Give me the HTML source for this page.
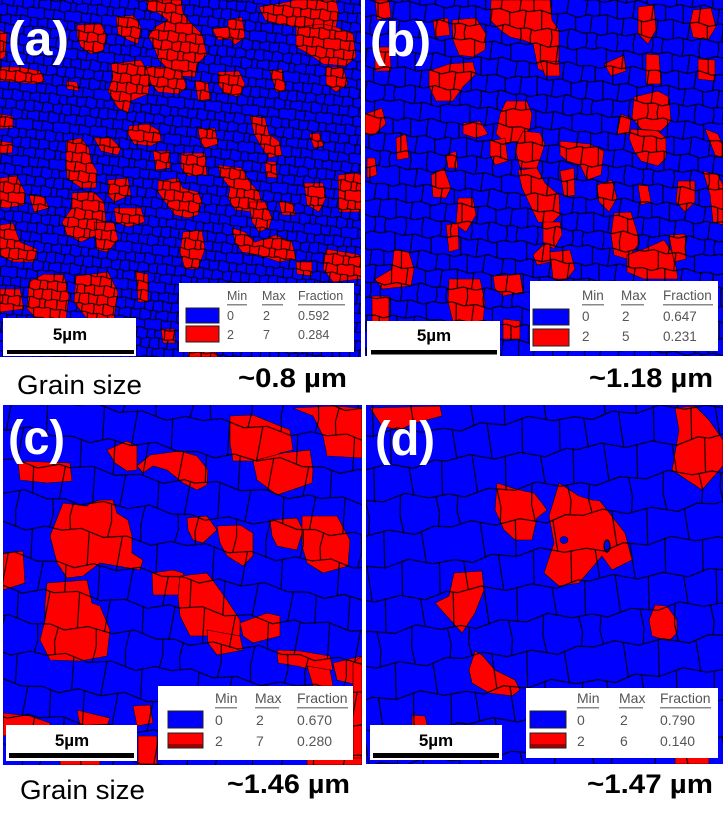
<!DOCTYPE html>
<html>
<head>
<meta charset="utf-8">
<style>
  html,body{margin:0;padding:0;background:#fff;}
  svg{display:block;}
  .lbl{font-family:"Liberation Sans",sans-serif;font-weight:bold;fill:#fff;}
  .leg{font-family:"Liberation Sans",sans-serif;fill:#555;}
  .sb{font-family:"Liberation Sans",sans-serif;font-weight:bold;fill:#000;}
  .cap{font-family:"Liberation Sans",sans-serif;fill:#000;}
  .capb{font-family:"Liberation Sans",sans-serif;font-weight:bold;fill:#000;}
  .r{fill:#ff0000;stroke:#000;stroke-width:0.6;}
</style>
</head>
<body>
<svg width="725" height="818" viewBox="0 0 725 818" xmlns="http://www.w3.org/2000/svg">
<defs>
  <path id="cellp" fill="none" d="M0 7 L9 5 L20 8 L31 6 L43 9 L52 6 L60 7
    M0 22 L8 24 L17 21 L28 23 L39 20 L50 23 L60 22
    M0 37 L11 35 L22 38 L34 36 L45 39 L55 36 L60 37
    M0 52 L7 54 L18 51 L30 53 L40 50 L51 53 L60 52
    M4 53 L3 60 M3 0 L4 6
    M22 52 L23 60 M23 0 L22 7.6
    M38 50.6 L37 60 M37 0 L38 7.7
    M54 52.7 L55 60 M55 0 L54 6.3
    M13 6 L14 22.3 M29 6.2 L28 22.9 M46 8 L47 22
    M4 23 L5 36.3 M20 21.5 L21 37.7 M36 20.4 L35 36.3 M53 22.7 L52 37
    M12 35.3 L13 52.2 M27 37.2 L26 52.7 M43 38.5 L44 51.2 M58 36.4 L57 52.5"/>
  <pattern id="pa" patternUnits="userSpaceOnUse" width="60" height="60" patternTransform="scale(0.62) rotate(6)">
    <use href="#cellp" stroke="#000" stroke-width="1.7"/>
  </pattern>
  <pattern id="pb" patternUnits="userSpaceOnUse" width="60" height="60" patternTransform="scale(1.1) rotate(4)">
    <use href="#cellp" stroke="#000" stroke-width="1.0"/>
  </pattern>
  <pattern id="pc" patternUnits="userSpaceOnUse" width="60" height="60" patternTransform="scale(2.1) rotate(7)">
    <use href="#cellp" stroke="#000" stroke-width="0.5"/>
  </pattern>
  <pattern id="pd" patternUnits="userSpaceOnUse" width="60" height="60" patternTransform="translate(10,20) scale(2.2) rotate(-5)">
    <use href="#cellp" stroke="#000" stroke-width="0.5"/>
  </pattern>
  <clipPath id="ca"><rect x="0" y="0" width="361" height="357"/></clipPath>
  <clipPath id="cb"><rect x="365" y="0" width="358" height="356"/></clipPath>
  <clipPath id="cc"><rect x="3" y="405" width="359" height="360"/></clipPath>
  <clipPath id="cd"><rect x="366" y="405" width="357" height="359"/></clipPath>
</defs>

<rect x="0" y="0" width="725" height="818" fill="#fff"/>

<!-- Panel A -->
<g clip-path="url(#ca)">
  <rect x="0" y="0" width="361" height="357" fill="#0000ff"/>
  <polygon class="r" points="146,0 181,0 183,13 188,20 202,34 207,55 197,64 195,77 181,76 171,72 158,59 153,44 148,37 155,27 168,20 158,13 148,10"/>
  <polygon class="r" points="77,25 101,24 106,34 104,50 91,54 81,47 77,37"/>
  <polygon class="r" points="116,17 134,15 141,27 138,44 128,40 118,34"/>
  <polygon class="r" points="111,64 141,60 151,77 148,94 131,101 128,113 118,108 108,91 113,77"/>
  <polygon class="r" points="146,66 165,67 181,72 187,87 178,94 158,92 151,84"/>
  <polygon class="r" points="195,81 208,82 210,99 198,101"/>
  <polygon class="r" points="259,7 282,3 296,0 336,0 339,13 336,27 312,30 296,27 279,24 265,20"/>
  <polygon class="r" points="296,27 323,24 336,27 353,34 356,57 346,66 323,64 309,54 296,47"/>
  <polygon class="r" points="326,67 343,67 348,84 336,92 326,84"/>
  <polygon class="r" points="218,72 239,71 245,84 239,97 225,94 218,84"/>
  <polygon class="r" points="270,71 282,69 286,91 276,92"/>
  <polygon class="r" points="228,20 242,17 245,37 235,45 228,37"/>
  <polygon class="r" points="212,29 228,27 232,39 218,40"/>
  <polygon class="r" points="0,30 7,34 5,57 0,60"/>
  <polygon class="r" points="0,67 20,67 40,71 45,81 34,84 13,82 0,81"/>
  <polygon class="r" points="66,81 77,82 79,91 67,89"/>
  <polygon class="r" points="129,126 148,124 160,131 161,141 151,146 134,144 128,134"/>
  <polygon class="r" points="198,129 215,128 218,144 205,148 200,141"/>
  <polygon class="r" points="250,116 265,118 269,134 279,141 282,155 269,158 262,148 254,134"/>
  <polygon class="r" points="309,134 319,133 324,146 314,148"/>
  <polygon class="r" points="0,114 13,116 13,128 0,129"/>
  <polygon class="r" points="0,141 13,143 12,153 0,153"/>
  <polygon class="r" points="66,141 81,138 89,148 91,161 97,171 96,188 81,188 67,178 66,161"/>
  <polygon class="r" points="94,138 111,138 121,148 118,155 101,151"/>
  <polygon class="r" points="153,151 170,151 170,168 156,170"/>
  <polygon class="r" points="181,153 205,153 207,175 188,176 181,168"/>
  <polygon class="r" points="108,180 128,178 131,195 114,202 108,195"/>
  <polygon class="r" points="158,181 178,178 183,188 198,192 202,202 198,215 188,218 175,215 165,202 158,192"/>
  <polygon class="r" points="218,165 242,168 249,181 259,192 262,205 255,212 235,210 228,198 230,188 220,175"/>
  <polygon class="r" points="249,202 265,202 272,218 269,228 259,232 252,222"/>
  <polygon class="r" points="265,161 276,162 277,178 266,177"/>
  <polygon class="r" points="338,175 356,173 361,175 361,212 339,212"/>
  <polygon class="r" points="304,183 323,183 326,198 319,212 307,205"/>
  <polygon class="r" points="279,202 292,202 296,215 282,215"/>
  <polygon class="r" points="0,178 17,176 25,192 24,205 7,208 0,207"/>
  <polygon class="r" points="29,195 44,197 49,208 34,212"/>
  <polygon class="r" points="72,193 94,192 104,202 106,222 97,235 81,242 67,235 62,222 67,215 72,208"/>
  <polygon class="r" points="94,222 114,223 118,239 108,252 97,250"/>
  <polygon class="r" points="114,208 141,208 145,222 128,227 116,222"/>
  <polygon class="r" points="183,232 202,230 205,249 198,269 185,269 180,252"/>
  <polygon class="r" points="0,225 13,223 20,242 37,249 34,262 13,262 0,255"/>
  <polygon class="r" points="232,228 245,232 255,242 276,235 292,242 296,259 279,262 259,255 242,252 235,242"/>
  <polygon class="r" points="326,249 356,254 361,256 361,279 333,282 323,269"/>
  <polygon class="r" points="296,262 312,262 312,276 297,274"/>
  <polygon class="r" points="29,282 44,274 64,275 69,296 66,319 37,319 27,309"/>
  <polygon class="r" points="76,276 108,272 118,292 114,319 87,319 74,302"/>
  <polygon class="r" points="0,289 20,289 24,309 0,312"/>
  <polygon class="r" points="136,272 148,274 148,302 138,302"/>
  <polygon class="r" points="161,329 175,329 175,343 163,343"/>
  <polygon class="r" points="188,351 215,350 218,357 188,357"/>
  <rect x="0" y="0" width="361" height="357" fill="url(#pa)"/>
</g>

<!-- Panel B -->
<g clip-path="url(#cb)">
  <rect x="365" y="0" width="358" height="356" fill="#0000ff"/>
  <polygon class="r" points="452,20 476,18 486,34 485,50 473,57 459,55 453,40"/>
  <polygon class="r" points="429,71 449,64 473,62 476,74 463,87 453,101 436,101 429,87"/>
  <polygon class="r" points="491,0 550,0 552,20 559,30 559,60 550,74 538,69 533,44 523,40 510,37 500,30 490,20"/>
  <polygon class="r" points="540,60 559,62 560,76 545,76"/>
  <polygon class="r" points="638,7 654,5 656,30 648,44 638,34"/>
  <polygon class="r" points="693,10 711,8 716,27 708,40 693,37 690,24"/>
  <polygon class="r" points="604,64 624,55 626,71 611,76"/>
  <polygon class="r" points="646,54 659,55 661,84 646,84"/>
  <polygon class="r" points="698,59 715,60 715,81 698,79"/>
  <polygon class="r" points="634,97 658,91 669,97 671,121 661,131 641,129 632,118"/>
  <polygon class="r" points="631,129 658,131 666,138 666,158 658,166 641,161 634,151 629,138"/>
  <polygon class="r" points="621,114 631,118 629,134 617,134"/>
  <polygon class="r" points="705,129 718,134 723,146 723,158 715,155"/>
  <polygon class="r" points="506,101 527,101 532,114 530,128 520,141 506,143 496,134 500,114"/>
  <polygon class="r" points="523,131 540,133 545,144 537,168 520,168 515,148"/>
  <polygon class="r" points="490,141 505,138 508,161 495,165 490,155"/>
  <polygon class="r" points="463,123 480,121 488,134 476,138 463,134"/>
  <polygon class="r" points="365,114 382,108 386,124 375,134 365,134"/>
  <polygon class="r" points="396,138 406,134 409,158 397,160"/>
  <polygon class="r" points="446,155 456,151 458,168 448,168"/>
  <polygon class="r" points="367,158 375,158 377,175 367,178"/>
  <polygon class="r" points="431,175 444,168 451,188 446,198 433,197"/>
  <polygon class="r" points="560,141 580,143 590,144 604,151 601,175 587,180 580,165 567,161 560,155"/>
  <polygon class="r" points="560,171 574,168 575,195 564,197"/>
  <polygon class="r" points="518,170 537,168 545,183 559,195 560,215 552,223 538,222 530,205 522,188"/>
  <polygon class="r" points="543,222 560,222 562,235 554,249 543,242"/>
  <polygon class="r" points="597,185 612,180 617,198 609,212 599,202"/>
  <polygon class="r" points="638,185 648,186 651,202 641,205"/>
  <polygon class="r" points="678,181 695,181 695,202 685,212 676,202"/>
  <polygon class="r" points="703,171 718,175 723,185 723,225 713,222 710,195"/>
  <polygon class="r" points="458,198 473,198 476,215 466,232 456,225"/>
  <polygon class="r" points="446,225 458,223 459,249 449,252"/>
  <polygon class="r" points="614,213 631,212 638,235 638,245 627,259 614,255 611,235"/>
  <polygon class="r" points="627,255 644,249 664,240 674,255 678,279 644,279 627,272"/>
  <polygon class="r" points="669,235 685,234 686,259 674,262"/>
  <polygon class="r" points="543,245 550,244 550,262 537,265 533,255"/>
  <polygon class="r" points="550,252 570,250 575,269 567,279 553,279"/>
  <polygon class="r" points="394,250 409,252 414,269 411,286 382,289 375,279 392,269"/>
  <polygon class="r" points="372,296 389,296 389,322 372,322"/>
  <polygon class="r" points="449,279 480,279 485,302 483,322 453,322 448,302"/>
  <polygon class="r" points="493,276 520,274 523,292 503,296 495,289"/>
  <polygon class="r" points="503,319 520,321 520,339 503,339"/>
  <polygon class="r" points="375,0 389,0 391,17 377,20"/>
  <polygon class="r" points="375,47 390,47 391,71 375,71"/>
  <polygon class="r" points="433,20 448,18 450,35 435,37"/>
  <rect x="365" y="0" width="358" height="356" fill="url(#pb)"/>
</g>

<!-- Panel C -->
<g clip-path="url(#cc)">
  <rect x="3" y="405" width="359" height="360" fill="#0000ff"/>
  <polygon class="r" points="18,461 70,463 72,481 47,483 20,480"/>
  <polygon class="r" points="107,450 127,441 137,446 137,470 127,471 115,463"/>
  <polygon class="r" points="137,466 150,455 180,451 197,456 208,470 207,485 197,490 183,483 167,470 153,466 143,473"/>
  <polygon class="r" points="230,416 253,415 290,430 293,450 280,453 267,461 233,461 230,443"/>
  <polygon class="r" points="293,408 333,406 362,408 362,458 327,456 323,436 313,416"/>
  <polygon class="r" points="253,461 283,453 310,450 313,470 312,483 277,495 257,480"/>
  <polygon class="r" points="50,536 63,503 87,506 90,503 100,500 113,500 117,513 128,520 132,536 132,553 143,560 140,570 100,563 83,576 67,578 57,563"/>
  <polygon class="r" points="3,553 23,551 25,583 3,590"/>
  <polygon class="r" points="47,583 87,580 92,603 100,606 110,630 107,656 80,661 50,660 40,640 45,620 45,603"/>
  <polygon class="r" points="152,573 173,570 183,573 190,590 182,595 153,595"/>
  <polygon class="r" points="180,576 207,573 217,586 227,600 240,620 240,636 220,643 213,636 190,636 180,616 178,596"/>
  <polygon class="r" points="207,630 240,636 243,650 217,655 208,643"/>
  <polygon class="r" points="240,623 267,613 280,616 280,636 253,643 243,636"/>
  <polygon class="r" points="187,518 207,516 217,530 203,543 193,540 188,530"/>
  <polygon class="r" points="217,526 240,525 253,533 253,556 243,566 227,556 220,543"/>
  <polygon class="r" points="270,520 297,518 303,530 297,550 277,546 272,536"/>
  <polygon class="r" points="302,516 337,516 350,540 348,566 323,573 307,563 302,546"/>
  <polygon class="r" points="277,650 300,651 330,656 333,670 313,670 297,666 278,663"/>
  <polygon class="r" points="307,666 330,670 333,686 313,686"/>
  <polygon class="r" points="333,663 362,656 362,686 337,680"/>
  <polygon class="r" points="3,713 30,716 50,723 53,736 27,733 3,736"/>
  <polygon class="r" points="77,710 97,715 110,718 107,726 80,725"/>
  <polygon class="r" points="133,706 150,705 153,723 137,726"/>
  <polygon class="r" points="138,736 157,736 157,765 138,765"/>
  <polygon class="r" points="353,663 362,656 362,765 353,765"/>
  <polygon class="r" points="307,758 362,758 362,765 307,765"/>
  <polygon class="r" points="60,760 100,760 100,765 60,765"/>
  <rect x="3" y="405" width="359" height="360" fill="url(#pc)"/>
</g>

<!-- Panel D -->
<g clip-path="url(#cd)">
  <rect x="366" y="405" width="357" height="359" fill="#0000ff"/>
  <polygon class="r" points="370,408 440,406 442,416 415,423 399,430 382,426"/>
  <polygon class="r" points="675,408 695,406 709,420 723,440 723,466 702,490 672,470 679,430"/>
  <polygon class="r" points="497,483 519,490 534,493 542,503 547,510 537,518 532,540 515,540 504,530 495,510"/>
  <polygon class="r" points="559,483 579,496 592,500 600,501 625,533 632,560 612,570 602,556 579,583 559,586 544,573 554,543 549,516"/>
  <polygon class="r" points="454,573 482,571 484,590 475,613 462,633 435,603 449,596"/>
  <polygon class="r" points="655,605 667,606 677,620 677,633 669,641 652,636 649,620"/>
  <polygon class="r" points="475,651 482,655 495,670 515,680 520,690 512,696 489,693 472,683 469,670"/>
  <polygon class="r" points="412,715 425,716 429,733 412,733"/>
  <polygon class="r" points="675,756 709,756 709,764 675,764"/>
  <ellipse cx="564" cy="540" rx="4" ry="3.5" fill="#0000ff" stroke="#000" stroke-width="0.6"/>
  <ellipse cx="607" cy="546" rx="3" ry="6" fill="#0000ff" stroke="#000" stroke-width="1.2"/>
  <rect x="366" y="405" width="357" height="359" fill="url(#pd)"/>
</g>

<!-- Panel labels -->
<text class="lbl" x="8" y="55" font-size="48" textLength="61" lengthAdjust="spacingAndGlyphs">(a)</text>
<text class="lbl" x="370" y="56" font-size="48" textLength="61" lengthAdjust="spacingAndGlyphs">(b)</text>
<text class="lbl" x="8" y="454" font-size="48" textLength="57" lengthAdjust="spacingAndGlyphs">(c)</text>
<text class="lbl" x="375" y="455" font-size="48" textLength="60" lengthAdjust="spacingAndGlyphs">(d)</text>

<!-- Scale bars -->
<rect x="3" y="318" width="133" height="38" fill="#fff"/>
<rect x="7" y="350" width="127" height="4" fill="#000"/>
<text class="sb" x="70" y="340" font-size="17" text-anchor="middle">5µm</text>

<rect x="367" y="321" width="133" height="35" fill="#fff"/>
<rect x="371" y="350" width="126" height="4.5" fill="#000"/>
<text class="sb" x="434" y="341" font-size="17" text-anchor="middle">5µm</text>

<rect x="6" y="725" width="131" height="36" fill="#fff"/>
<rect x="9" y="753" width="125" height="5" fill="#000"/>
<text class="sb" x="72" y="746" font-size="17" text-anchor="middle">5µm</text>

<rect x="370" y="725" width="132" height="35" fill="#fff"/>
<rect x="373" y="753" width="126" height="5" fill="#000"/>
<text class="sb" x="436" y="746" font-size="17" text-anchor="middle">5µm</text>

<!-- Legend A -->
<rect x="179" y="283" width="175" height="69" fill="#fff"/>
<rect x="186" y="308" width="33" height="15" fill="#0000ff" stroke="#222" stroke-width="1"/>
<rect x="186" y="326" width="33" height="16" fill="#ff0000" stroke="#222" stroke-width="1"/>
<g class="leg" font-size="12.5">
  <text x="227" y="300">Min</text><text x="262" y="300">Max</text><text x="298" y="300">Fraction</text>
  <text x="227" y="320">0</text><text x="263" y="320">2</text><text x="298" y="320">0.592</text>
  <text x="227" y="339">2</text><text x="263" y="339">7</text><text x="298" y="339">0.284</text>
</g>
<rect x="227" y="304" width="20" height="1.5" fill="#888"/>
<rect x="262" y="304" width="21" height="1.5" fill="#888"/>
<rect x="298" y="304" width="47" height="1.5" fill="#888"/>

<!-- Legend B -->
<rect x="530" y="281" width="188" height="70" fill="#fff"/>
<rect x="533" y="309" width="36" height="16" fill="#0000ff" stroke="#222" stroke-width="1"/>
<rect x="533" y="329" width="36" height="17" fill="#ff0000" stroke="#222" stroke-width="1"/>
<g class="leg" font-size="13.5">
  <text x="582" y="300">Min</text><text x="621" y="300">Max</text><text x="663" y="300">Fraction</text>
  <text x="582" y="321">0</text><text x="622" y="321">2</text><text x="663" y="321">0.647</text>
  <text x="582" y="341">2</text><text x="622" y="341">5</text><text x="663" y="341">0.231</text>
</g>
<rect x="582" y="304" width="22" height="1.5" fill="#888"/>
<rect x="621" y="304" width="23" height="1.5" fill="#888"/>
<rect x="663" y="304" width="50" height="1.5" fill="#888"/>

<!-- Legend C -->
<rect x="158" y="686" width="195" height="74" fill="#fff"/>
<rect x="168" y="711" width="35" height="17" fill="#0000ff" stroke="#222" stroke-width="1"/>
<rect x="168" y="733" width="35" height="15" fill="#ff0000" stroke="#222" stroke-width="1"/>
<rect x="168.5" y="744" width="34" height="3.5" fill="#a00000"/>
<g class="leg" font-size="14">
  <text x="215" y="703">Min</text><text x="255" y="703">Max</text><text x="297" y="703">Fraction</text>
  <text x="215" y="725">0</text><text x="256" y="725">2</text><text x="297" y="725">0.670</text>
  <text x="215" y="746">2</text><text x="256" y="746">7</text><text x="297" y="746">0.280</text>
</g>
<rect x="215" y="707" width="22" height="1.5" fill="#888"/>
<rect x="255" y="707" width="24" height="1.5" fill="#888"/>
<rect x="297" y="707" width="51" height="1.5" fill="#888"/>

<!-- Legend D -->
<rect x="526" y="688" width="192" height="70" fill="#fff"/>
<rect x="530" y="711" width="36" height="17" fill="#0000ff" stroke="#222" stroke-width="1"/>
<rect x="530" y="733" width="36" height="15" fill="#ff0000" stroke="#222" stroke-width="1"/>
<rect x="530.5" y="744" width="35" height="3.5" fill="#a00000"/>
<g class="leg" font-size="14">
  <text x="577" y="703">Min</text><text x="619" y="703">Max</text><text x="660" y="703">Fraction</text>
  <text x="577" y="725">0</text><text x="620" y="725">2</text><text x="660" y="725">0.790</text>
  <text x="577" y="746">2</text><text x="620" y="746">6</text><text x="660" y="746">0.140</text>
</g>
<rect x="577" y="707" width="22" height="1.5" fill="#888"/>
<rect x="619" y="707" width="24" height="1.5" fill="#888"/>
<rect x="660" y="707" width="51" height="1.5" fill="#888"/>

<!-- Captions -->
<text class="cap" x="17" y="394" font-size="27" textLength="125" lengthAdjust="spacingAndGlyphs">Grain size</text>
<text class="capb" x="238" y="387" font-size="27" textLength="109" lengthAdjust="spacingAndGlyphs">~0.8 µm</text>
<text class="capb" x="589" y="387" font-size="27" textLength="124" lengthAdjust="spacingAndGlyphs">~1.18 µm</text>
<text class="cap" x="20" y="799" font-size="27" textLength="125" lengthAdjust="spacingAndGlyphs">Grain size</text>
<text class="capb" x="227" y="793" font-size="27" textLength="123" lengthAdjust="spacingAndGlyphs">~1.46 µm</text>
<text class="capb" x="587" y="793" font-size="27" textLength="126" lengthAdjust="spacingAndGlyphs">~1.47 µm</text>
</svg>
</body>
</html>
